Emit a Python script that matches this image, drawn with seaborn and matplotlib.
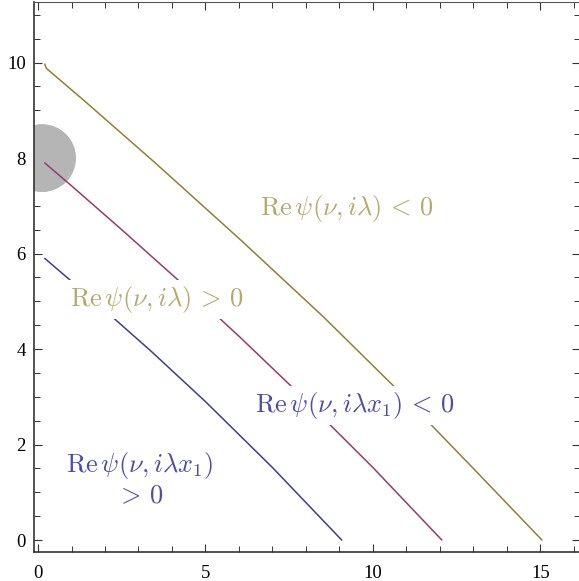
import matplotlib
matplotlib.use("Agg")
import matplotlib.pyplot as plt
from matplotlib.patches import Ellipse
from matplotlib.ticker import MultipleLocator
import seaborn as sns
import pandas as pd

# ---- data ----
olive_x = [0.20, 0.25, 0.35, 1.4, 3.5, 6.06, 8.5, 10.6, 13.0, 15.05]
olive_y = [9.97, 9.88, 9.82, 9.19, 7.90, 6.28, 4.69, 3.24, 1.50, 0.0]
purple_x = [0.20, 1.0, 2.5, 4.24, 6.06, 7.61, 10.0, 12.06]
purple_y = [7.90, 7.42, 6.50, 5.41, 4.23, 3.19, 1.52, 0.0]
blue_x = [0.20, 1.5, 3.37, 5.0, 7.0, 9.07]
blue_y = [5.90, 5.12, 3.96, 2.90, 1.52, 0.0]
circle_center = (0.12, 8.0)

labels = [r"$\mathrm{Re}\,\psi(\nu,i\lambda)\,<\,0$",
          r"$\mathrm{Re}\,\psi(\nu,i\lambda)\,>\,0$",
          r"$\mathrm{Re}\,\psi(\nu,i\lambda x_1)\,<\,0$",
          "$\\mathrm{Re}\\,\\psi(\\nu,i\\lambda x_1)$\n$>\\,0$"]
label_x = [9.22, 3.55, 9.46, 3.04]
label_y = [6.95, 5.04, 2.82, 1.26]

x_ticks = [0, 5, 10, 15]
y_ticks = [0, 2, 4, 6, 8, 10]

frames = []
for name, xs, ys in [("blue", blue_x, blue_y), ("purple", purple_x, purple_y),
                     ("olive", olive_x, olive_y)]:
    frames.append(pd.DataFrame({"x": xs, "y": ys, "curve": name}))
df = pd.concat(frames, ignore_index=True)

line_colors = {"blue": "#3c3c9c", "purple": "#983a6c", "olive": "#918032"}
label_colors = ["#b3a96e", "#b3a96e", "#4c4cac", "#4c4cac"]

sns.set_style("white")
plt.rcParams["mathtext.fontset"] = "cm"

fig = plt.figure(figsize=(5.79, 5.81), dpi=100)
ax = fig.add_axes([34 / 579, 29 / 581, 545.5 / 579, 550.5 / 581])

ax.add_patch(Ellipse(circle_center, width=2 * 34 / 33.5, height=2 * 34 / 47.8,
                     facecolor="#b5b5b5", edgecolor="none", zorder=1))

sns.lineplot(data=df, x="x", y="y", hue="curve", palette=line_colors,
             sort=False, estimator=None, linewidth=1.1, legend=False, ax=ax,
             zorder=2)

for t, lx, ly, c in zip(labels, label_x, label_y, label_colors):
    ax.text(lx, ly, t, color=c, fontsize=19, ha="center", va="center",
            multialignment="center", linespacing=1.1, zorder=3,
            bbox=dict(facecolor="white", edgecolor="none", pad=3))

ax.set_xlim(-0.12, 16.17)
ax.set_ylim(-0.25, 11.28)
ax.set_xlabel("")
ax.set_ylabel("")
ax.set_xticks(x_ticks)
ax.set_yticks(y_ticks)
ax.xaxis.set_minor_locator(MultipleLocator(1))
ax.yaxis.set_minor_locator(MultipleLocator(0.5))
ax.tick_params(which="both", direction="in", top=True, right=True,
               bottom=True, left=True, color="#333333")
ax.tick_params(which="major", length=6, width=0.8)
ax.tick_params(which="minor", length=4, width=0.7)
ax.tick_params(axis="x", which="major", pad=9)
ax.tick_params(axis="y", which="major", pad=6)
for lab in ax.get_xticklabels() + ax.get_yticklabels():
    lab.set_fontfamily("Liberation Serif")
    lab.set_fontsize(13.5)
    lab.set_color("black")

for s in ["left", "bottom"]:
    ax.spines[s].set_color("#333333")
    ax.spines[s].set_linewidth(1.2)
for s in ["top", "right"]:
    ax.spines[s].set_color("#555555")
    ax.spines[s].set_linewidth(0.8)
ax.grid(False)

fig.savefig("out.png", dpi=100)
